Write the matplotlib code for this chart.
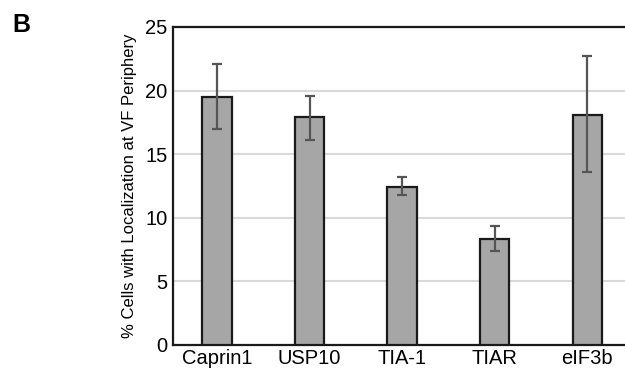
import matplotlib
matplotlib.use("Agg")
import matplotlib.pyplot as plt

categories = ["Caprin1", "USP10", "TIA-1", "TIAR", "eIF3b"]
values = [19.5, 17.9, 12.4, 8.3, 18.1]
err_low = [17.0, 16.1, 11.8, 7.4, 13.6]
err_high = [22.1, 19.6, 13.2, 9.35, 22.7]
yticks = [0, 5, 10, 15, 20, 25]

plt.rcParams['font.family'] = ['Liberation Sans', 'DejaVu Sans']

fig = plt.figure(figsize=(6.25, 3.71), dpi=100)
ax = fig.add_axes([173/625, 1-345/371, 1-173/625, (345-27)/371])

x = list(range(len(categories)))
yerr = [[v - l for v, l in zip(values, err_low)], [h - v for v, h in zip(values, err_high)]]
ax.bar(x, values, width=0.315, color="#a6a6a6", edgecolor="#1a1a1a", linewidth=1.6, zorder=3)
ax.errorbar(x, values, yerr=yerr, fmt="none", ecolor="#555555", elinewidth=1.6,
            capsize=3.3, capthick=1.6, zorder=4)

ax.set_xlim(-0.476, 4.41)
ax.set_ylim(0, 25)
ax.set_yticks(yticks)
ax.set_yticklabels([str(t) for t in yticks], fontsize=14.5)
ax.set_xticks(x)
ax.set_xticklabels(categories, fontsize=14.5)
ax.tick_params(axis="y", length=0, pad=4)
ax.tick_params(axis="x", length=0, pad=3)
ax.yaxis.grid(True, color="#d9d9d9", linewidth=1.5, zorder=0)
ax.set_axisbelow(True)
for s in ["left", "top", "bottom"]:
    ax.spines[s].set_linewidth(1.6)
    ax.spines[s].set_color("#1a1a1a")
ax.spines["right"].set_visible(False)
ax.set_ylabel("% Cells with Localization at VF Periphery", fontsize=12, labelpad=6)

fig.text(12/625, 1-32/371, "B", fontsize=18, fontweight="bold", ha="left", va="baseline")

fig.savefig("out.png", dpi=100)
